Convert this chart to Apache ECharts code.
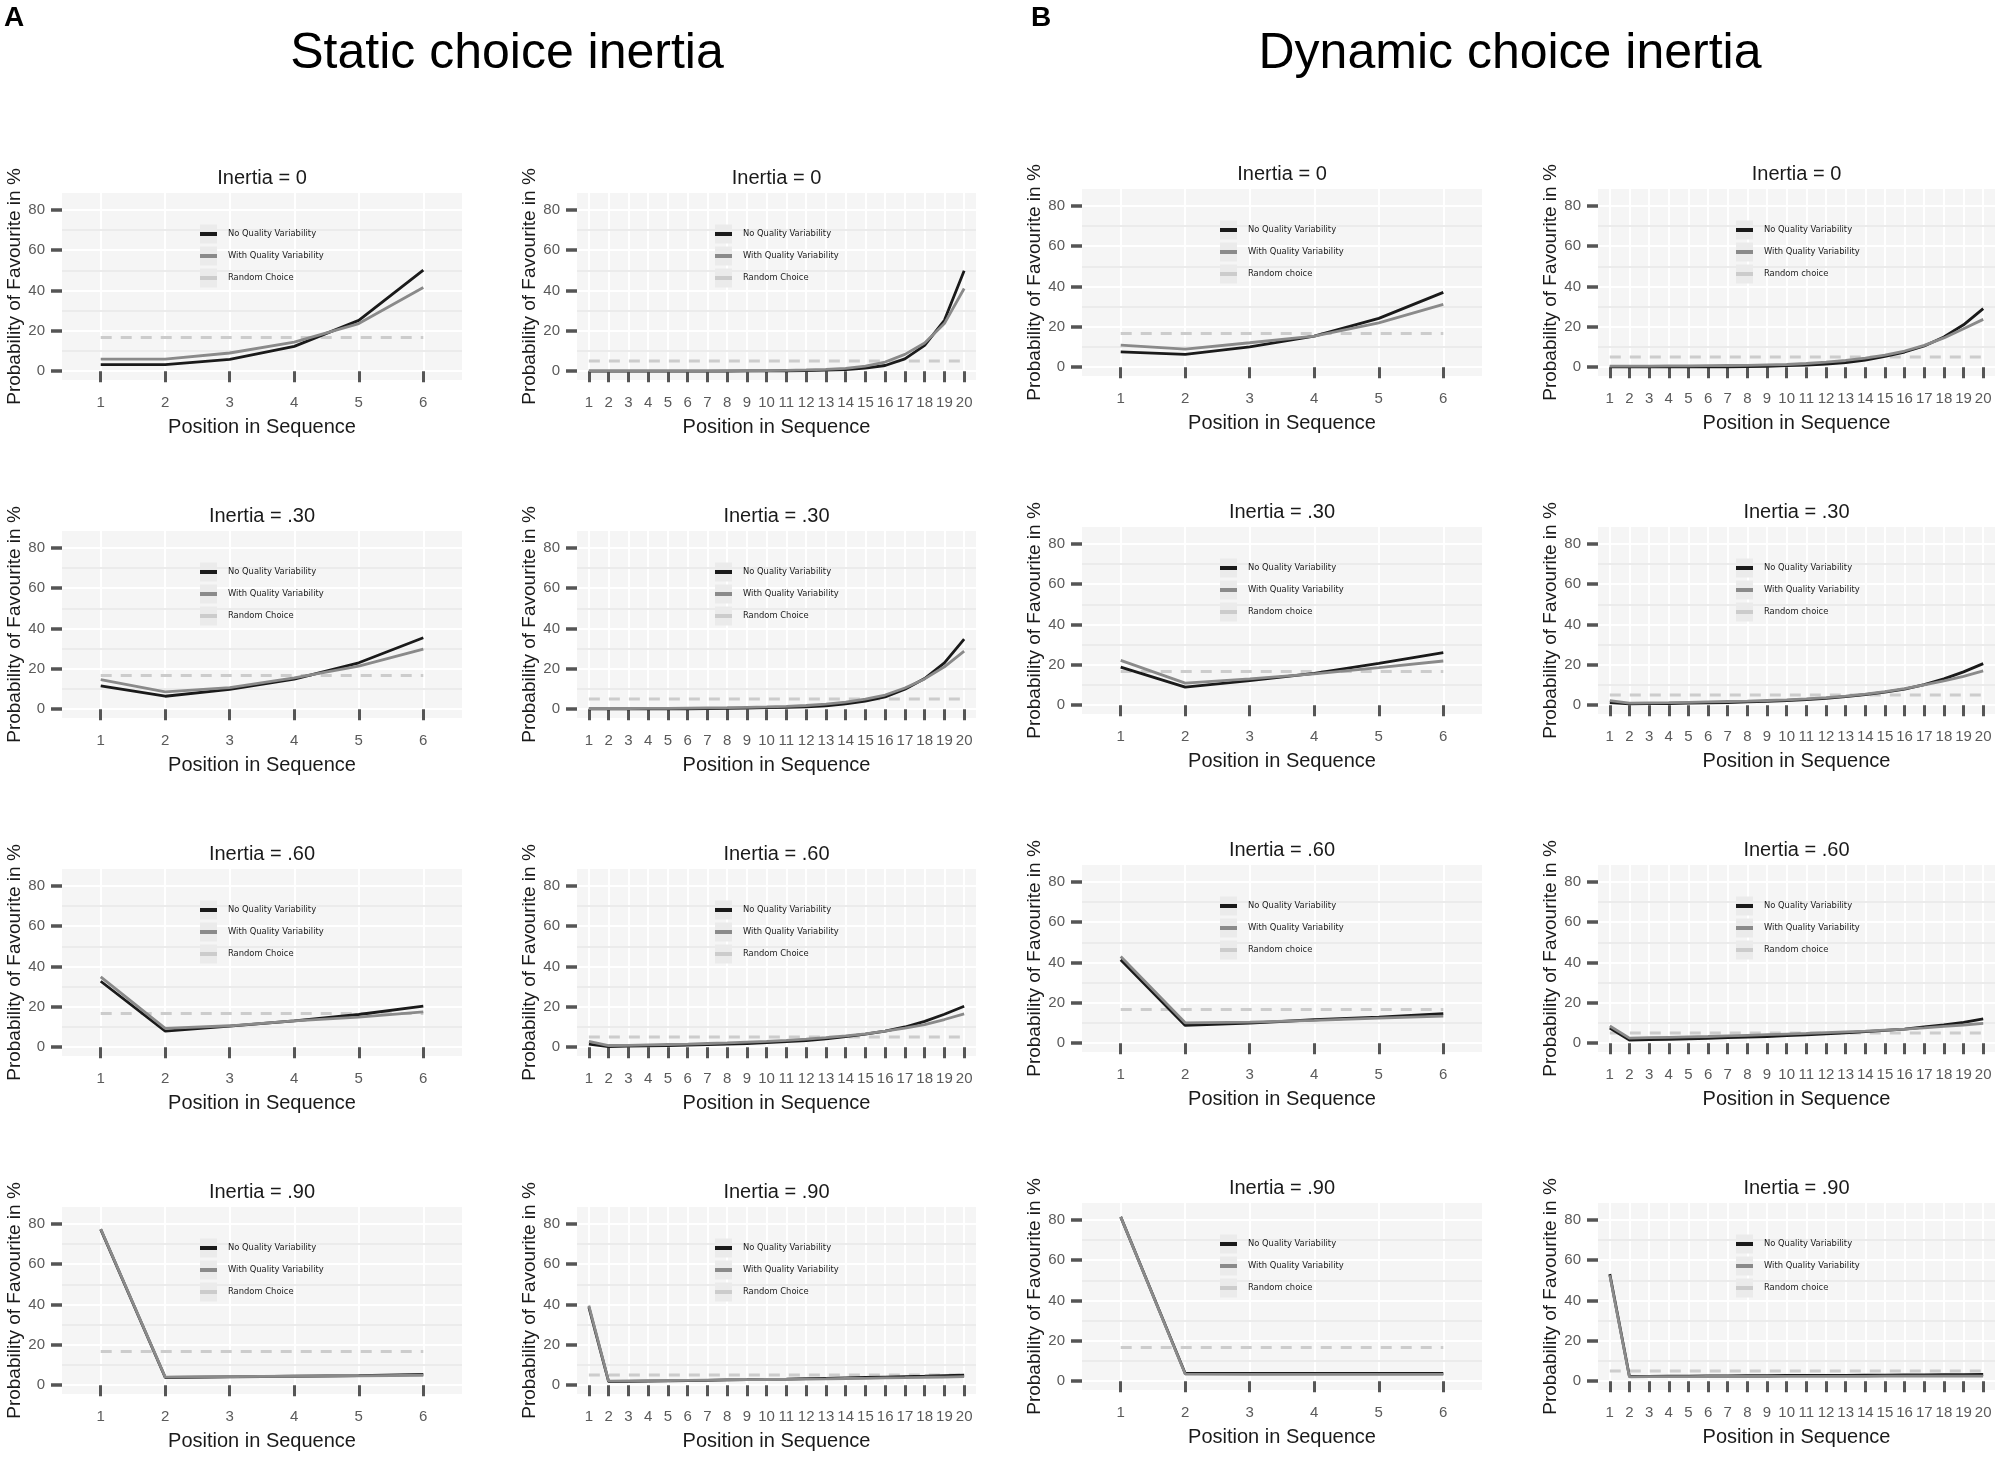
<!DOCTYPE html>
<html><head><meta charset="utf-8">
<script src="https://cdn.jsdelivr.net/npm/echarts@6/dist/echarts.min.js"></script>
<style>html,body{margin:0;padding:0;background:#fff}#c{width:2000px;height:1457px}</style>
</head><body><div id="c"></div><script>
// ---- categories / ticks ----
const positions6 = [1, 2, 3, 4, 5, 6];
const positions20 = [1, 2, 3, 4, 5, 6, 7, 8, 9, 10, 11, 12, 13, 14, 15, 16, 17, 18, 19, 20];
const yTicks = [0, 20, 40, 60, 80];
const yMinorGrid = [10, 30, 50, 70];
const inertiaLabels = ['Inertia = 0', 'Inertia = .30', 'Inertia = .60', 'Inertia = .90'];
const seriesNames = ['No Quality Variability', 'With Quality Variability'];
const randomNameStatic = 'Random Choice';
const randomNameDynamic = 'Random choice';
const randomChoice6 = [16.67, 16.67, 16.67, 16.67, 16.67, 16.67];
const randomChoice20 = [5, 5, 5, 5, 5, 5, 5, 5, 5, 5, 5, 5, 5, 5, 5, 5, 5, 5, 5, 5];

// ---- A: static choice inertia, 6 positions ----
const static6_i0_noVar   = [3.2, 3.2, 5.8, 12.3, 25.2, 50.1];
const static6_i0_withVar = [6.0, 6.0, 9.0, 14.4, 23.6, 41.5];
const static6_i30_noVar   = [11.6, 6.4, 9.8, 14.9, 23.0, 35.4];
const static6_i30_withVar = [14.7, 8.6, 10.7, 15.5, 21.3, 29.8];
const static6_i60_noVar   = [32.7, 7.9, 10.4, 13.0, 16.2, 20.3];
const static6_i60_withVar = [34.9, 9.3, 10.6, 13.0, 14.9, 17.5];
const static6_i90_noVar   = [77.3, 3.8, 4.1, 4.4, 4.7, 5.3];
const static6_i90_withVar = [77.5, 4.0, 4.2, 4.4, 4.6, 4.9];

// ---- A: static choice inertia, 20 positions ----
const static20_i0_noVar   = [0.0, 0.0, 0.0, 0.0, 0.0, 0.0, 0.0, 0.0, 0.1, 0.1, 0.2, 0.3, 0.5, 0.8, 1.5, 2.8, 6.1, 12.8, 25.2, 49.8];
const static20_i0_withVar = [0.1, 0.1, 0.1, 0.1, 0.1, 0.1, 0.1, 0.2, 0.2, 0.3, 0.4, 0.6, 0.9, 1.4, 2.5, 4.5, 8.3, 14.0, 23.6, 41.0];
const static20_i30_noVar   = [0.1, 0.1, 0.1, 0.1, 0.2, 0.2, 0.3, 0.4, 0.5, 0.7, 0.9, 1.1, 1.6, 2.6, 4.0, 6.1, 9.9, 15.2, 23.0, 34.7];
const static20_i30_withVar = [0.3, 0.3, 0.3, 0.4, 0.4, 0.5, 0.6, 0.7, 0.9, 1.1, 1.4, 1.8, 2.5, 3.5, 5.0, 7.0, 10.5, 15.0, 21.0, 28.8];
const static20_i60_noVar   = [1.5, 0.3, 0.5, 0.6, 0.8, 1.0, 1.2, 1.5, 1.8, 2.2, 2.7, 3.3, 4.1, 5.2, 6.5, 8.0, 10.0, 12.8, 16.3, 20.3];
const static20_i60_withVar = [2.8, 0.8, 0.9, 1.1, 1.3, 1.5, 1.8, 2.1, 2.5, 2.9, 3.4, 4.0, 4.7, 5.6, 6.6, 7.9, 9.4, 11.2, 13.7, 16.5];
const static20_i90_noVar   = [38.7, 1.7, 1.9, 2.0, 2.1, 2.3, 2.4, 2.6, 2.7, 2.9, 3.0, 3.2, 3.4, 3.6, 3.8, 4.0, 4.2, 4.4, 4.7, 4.9];
const static20_i90_withVar = [39.5, 2.0, 2.1, 2.2, 2.3, 2.4, 2.5, 2.6, 2.7, 2.8, 2.9, 3.0, 3.1, 3.3, 3.4, 3.6, 3.7, 3.9, 4.0, 4.2];

// ---- B: dynamic choice inertia, 6 positions ----
const dynamic6_i0_noVar   = [7.6, 6.3, 10.1, 15.4, 24.2, 37.1];
const dynamic6_i0_withVar = [10.9, 8.9, 12.1, 15.4, 22.0, 31.1];
const dynamic6_i30_noVar   = [18.9, 8.9, 12.2, 15.8, 20.7, 26.0];
const dynamic6_i30_withVar = [22.2, 10.9, 13.0, 15.5, 18.6, 21.9];
const dynamic6_i60_noVar   = [41.4, 8.8, 9.9, 11.6, 12.9, 14.6];
const dynamic6_i60_withVar = [43.0, 10.1, 10.4, 11.3, 12.4, 13.4];
const dynamic6_i90_noVar   = [81.5, 3.8, 3.8, 3.8, 3.8, 3.8];
const dynamic6_i90_withVar = [81.5, 3.5, 3.4, 3.4, 3.4, 3.4];

// ---- B: dynamic choice inertia, 20 positions ----
const dynamic20_i0_noVar   = [0.1, 0.1, 0.1, 0.1, 0.1, 0.2, 0.2, 0.3, 0.4, 0.7, 1.0, 1.5, 2.3, 3.5, 5.3, 7.5, 10.5, 15.0, 21.0, 29.0];
const dynamic20_i0_withVar = [0.5, 0.5, 0.5, 0.6, 0.6, 0.7, 0.8, 0.9, 1.1, 1.3, 1.8, 2.5, 3.3, 4.5, 6.0, 8.0, 10.8, 14.5, 19.0, 23.7];
const dynamic20_i30_noVar   = [1.2, 0.6, 0.7, 0.8, 1.0, 1.1, 1.3, 1.6, 1.9, 2.3, 2.8, 3.4, 4.2, 5.2, 6.5, 8.0, 10.2, 13.0, 16.5, 20.6];
const dynamic20_i30_withVar = [2.2, 1.0, 1.1, 1.2, 1.4, 1.6, 1.8, 2.0, 2.3, 2.6, 3.1, 3.7, 4.5, 5.5, 6.7, 8.2, 10.0, 12.0, 14.3, 17.0];
const dynamic20_i60_noVar   = [7.5, 1.5, 1.7, 1.9, 2.1, 2.4, 2.7, 3.0, 3.3, 3.7, 4.1, 4.6, 5.1, 5.7, 6.3, 7.0, 8.0, 9.0, 10.3, 12.0];
const dynamic20_i60_withVar = [8.5, 2.5, 2.7, 2.9, 3.1, 3.3, 3.6, 3.9, 4.2, 4.5, 4.8, 5.2, 5.6, 6.0, 6.5, 7.0, 7.6, 8.3, 9.0, 9.8];
const dynamic20_i90_noVar   = [53.1, 2.3, 2.4, 2.5, 2.5, 2.6, 2.6, 2.7, 2.7, 2.8, 2.8, 2.9, 2.9, 3.0, 3.0, 3.1, 3.1, 3.2, 3.2, 3.3];
const dynamic20_i90_withVar = [52.5, 2.1, 2.2, 2.2, 2.2, 2.3, 2.3, 2.3, 2.3, 2.4, 2.4, 2.4, 2.4, 2.4, 2.5, 2.5, 2.5, 2.5, 2.5, 2.5];

// ---- layout ----
const FONT = "'Liberation Sans', Arial, Helvetica, sans-serif";
const NARROW = "'DejaVu Sans Condensed', 'Liberation Sans Narrow', sans-serif";
const colLeft = [62, 577, 1082, 1598];
const colWidth = [400, 399, 400, 397];
const rowTopA = [193, 531, 869, 1207];
const rowTopB = [189, 527, 865, 1203];
const plotH = 187;
const legendKeyOffsetX = 138;
const legendFirstCenterY = 41;
const legendStep = 22;

const columns = [
  {pos: positions6, rnd: randomChoice6, rndName: randomNameStatic, tops: rowTopA,
   rows: [[static6_i0_noVar, static6_i0_withVar], [static6_i30_noVar, static6_i30_withVar], [static6_i60_noVar, static6_i60_withVar], [static6_i90_noVar, static6_i90_withVar]]},
  {pos: positions20, rnd: randomChoice20, rndName: randomNameStatic, tops: rowTopA,
   rows: [[static20_i0_noVar, static20_i0_withVar], [static20_i30_noVar, static20_i30_withVar], [static20_i60_noVar, static20_i60_withVar], [static20_i90_noVar, static20_i90_withVar]]},
  {pos: positions6, rnd: randomChoice6, rndName: randomNameDynamic, tops: rowTopB,
   rows: [[dynamic6_i0_noVar, dynamic6_i0_withVar], [dynamic6_i30_noVar, dynamic6_i30_withVar], [dynamic6_i60_noVar, dynamic6_i60_withVar], [dynamic6_i90_noVar, dynamic6_i90_withVar]]},
  {pos: positions20, rnd: randomChoice20, rndName: randomNameDynamic, tops: rowTopB,
   rows: [[dynamic20_i0_noVar, dynamic20_i0_withVar], [dynamic20_i30_noVar, dynamic20_i30_withVar], [dynamic20_i60_noVar, dynamic20_i60_withVar], [dynamic20_i90_noVar, dynamic20_i90_withVar]]}
];

const grid = [], xAxis = [], yAxis = [], series = [], legend = [], graphic = [];
const title = [
  {text: 'A', left: 4, top: 4, padding: 0, textStyle: {fontSize: 28, fontWeight: 'bold', color: '#000', fontFamily: FONT}},
  {text: 'B', left: 1031, top: 4, padding: 0, textStyle: {fontSize: 28, fontWeight: 'bold', color: '#000', fontFamily: FONT}},
  {text: 'Static choice inertia', left: 507, top: 29, padding: 0, textAlign: 'center', textStyle: {fontSize: 50, fontWeight: 'normal', color: '#000', fontFamily: FONT}},
  {text: 'Dynamic choice inertia', left: 1510, top: 29, padding: 0, textAlign: 'center', textStyle: {fontSize: 50, fontWeight: 'normal', color: '#000', fontFamily: FONT}}
];

let gi = 0;
columns.forEach((col, c) => {
  const n = col.pos.length;
  col.rows.forEach((pair, r) => {
    const left = colLeft[c], top = col.tops[r], w = colWidth[c];
    grid.push({left: left, top: top, width: w, height: plotH, show: true, backgroundColor: '#f5f5f5', borderWidth: 0, containLabel: false});
    xAxis.push({
      gridIndex: gi, type: 'value', min: 0.4, max: n + 0.6,
      axisLine: {show: false},
      axisTick: {show: true, customValues: col.pos, length: 11, lineStyle: {color: '#555555', width: 3}},
      axisLabel: {customValues: col.pos, color: '#5a5a5a', fontSize: 15, margin: 15, fontFamily: FONT},
      splitLine: {show: true, lineStyle: {color: '#ffffff', width: 2}},
      name: 'Position in Sequence', nameLocation: 'middle', nameGap: 37,
      nameTextStyle: {fontSize: 20, color: '#1a1a1a', fontFamily: FONT}
    });
    yAxis.push({
      gridIndex: gi, type: 'value', min: -4.4, max: 88.4,
      axisLine: {show: false},
      axisTick: {show: true, customValues: yTicks, length: 11, lineStyle: {color: '#555555', width: 3.5}},
      axisLabel: {customValues: yTicks, color: '#5a5a5a', fontSize: 15, margin: 17, fontFamily: FONT},
      splitLine: {show: true, lineStyle: {color: '#ffffff', width: 2}},
      name: 'Probability of Favourite in %', nameLocation: 'middle', nameGap: 36,
      nameTextStyle: {fontSize: 19, color: '#1a1a1a', fontFamily: FONT}
    });
    title.push({text: inertiaLabels[r], left: left + w / 2, top: top - 25, padding: 0, textAlign: 'center',
      textStyle: {fontSize: 20, fontWeight: 'normal', color: '#1a1a1a', fontFamily: FONT}});
    // random choice reference (with minor grid lines)
    series.push({
      name: col.rndName, type: 'line', xAxisIndex: gi, yAxisIndex: gi, z: 2,
      data: col.pos.map((p, i) => [p, col.rnd[i]]), symbol: 'none', silent: true,
      lineStyle: {color: '#cccccc', width: 3, type: [11, 9]}, itemStyle: {color: '#cccccc'},
      markLine: {silent: true, symbol: 'none', z: 1, animation: false, label: {show: false},
        lineStyle: {color: '#ebebeb', width: 2, type: 'solid'},
        data: yMinorGrid.map(v => ({yAxis: v}))}
    });
    series.push({
      name: seriesNames[0], type: 'line', xAxisIndex: gi, yAxisIndex: gi, z: 3,
      data: col.pos.map((p, i) => [p, pair[0][i]]), symbol: 'none', silent: true,
      lineStyle: {color: '#1a1a1a', width: 2.8}, itemStyle: {color: '#1a1a1a'}
    });
    series.push({
      name: seriesNames[1], type: 'line', xAxisIndex: gi, yAxisIndex: gi, z: 4,
      data: col.pos.map((p, i) => [p, pair[1][i]]), symbol: 'none', silent: true,
      lineStyle: {color: '#8a8a8a', width: 2.8}, itemStyle: {color: '#8a8a8a'}
    });
    // legend key boxes (decoration)
    for (let k = 0; k < 3; k++) {
      graphic.push({type: 'rect', z: 1, silent: true,
        shape: {x: left + legendKeyOffsetX, y: top + legendFirstCenterY + k * legendStep - 9.5, width: 17, height: 19},
        style: {fill: '#ebebeb'}});
    }
    legend.push({
      orient: 'vertical', left: left + legendKeyOffsetX, top: top + legendFirstCenterY - 6, padding: 0,
      itemWidth: 17, itemHeight: 4, itemGap: legendStep - 12, selectedMode: false, icon: 'rect', z: 5,
      data: [seriesNames[0], seriesNames[1], col.rndName],
      textStyle: {fontSize: 9.3, lineHeight: 12, color: '#1a1a1a', fontFamily: NARROW, padding: [0, 0, 0, 6]}
    });
    gi++;
  });
});

const chart = echarts.init(document.getElementById('c'), null, {renderer: 'canvas'});
chart.setOption({animation: false, backgroundColor: '#ffffff', title, grid, xAxis, yAxis, legend, graphic, series});
</script></body></html>
